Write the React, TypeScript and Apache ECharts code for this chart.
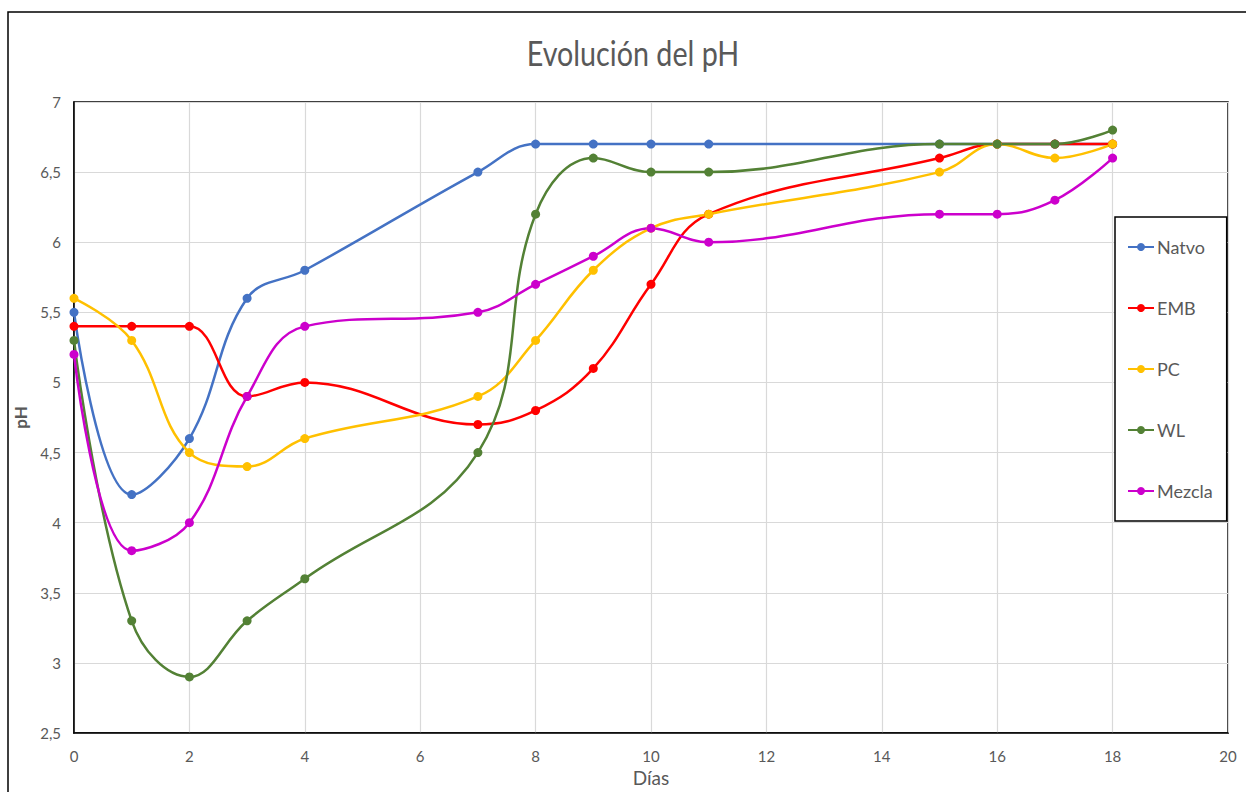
import React, { useEffect, useRef } from "react";
import * as echarts from "echarts";

const days = [0, 1, 2, 3, 4, 7, 8, 9, 10, 11, 15, 16, 17, 18];
const natvo = [5.5, 4.2, 4.6, 5.6, 5.8, 6.5, 6.7, 6.7, 6.7, 6.7, 6.7, 6.7, 6.7, 6.7];
const emb = [5.4, 5.4, 5.4, 4.9, 5.0, 4.7, 4.8, 5.1, 5.7, 6.2, 6.6, 6.7, 6.7, 6.7];
const pc = [5.6, 5.3, 4.5, 4.4, 4.6, 4.9, 5.3, 5.8, 6.1, 6.2, 6.5, 6.7, 6.6, 6.7];
const wl = [5.3, 3.3, 2.9, 3.3, 3.6, 4.5, 6.2, 6.6, 6.5, 6.5, 6.7, 6.7, 6.7, 6.8];
const mezcla = [5.2, 3.8, 4.0, 4.9, 5.4, 5.5, 5.7, 5.9, 6.1, 6.0, 6.2, 6.2, 6.3, 6.6];

const seriesNames = ["Natvo", "EMB", "PC", "WL", "Mezcla"];
const seriesValues = [natvo, emb, pc, wl, mezcla];
const seriesColors = ["#4472C4", "#FF0000", "#FFC000", "#538135", "#CC00CC"];
const titleText = "Evolución del pH";

const FONT = "Lato, 'Liberation Sans', sans-serif";

export default function App() {
  const ref = useRef<HTMLDivElement>(null);
  useEffect(() => {
    if (!ref.current) return;
    const chart = echarts.init(ref.current, undefined, { renderer: "svg" });
    chart.setOption({
      animation: false,
      backgroundColor: "#ffffff",
      textStyle: { fontFamily: FONT },
      graphic: [
        {
          type: "rect",
          shape: { x: 8, y: 12, width: 1260, height: 800 },
          style: { fill: "none", stroke: "#000", lineWidth: 1.5 },
          z: 100,
          silent: true,
        },
        {
          type: "text",
          x: 633,
          y: 52,
          scaleX: 0.82,
          scaleY: 1,
          style: {
            text: titleText,
            fontSize: 35,
            fontFamily: FONT,
            fill: "#595959",
            align: "center",
            verticalAlign: "middle",
            textAlign: "center",
            textVerticalAlign: "middle",
          },
          silent: true,
        },
      ],
      legend: {
        orient: "vertical",
        left: 1115,
        top: 217,
        width: 111,
        height: 305,
        padding: [21, 14, 21, 12],
        itemGap: 43,
        itemWidth: 26,
        itemHeight: 10,
        backgroundColor: "#ffffff",
        borderColor: "#000000",
        borderWidth: 1.5,
        textStyle: { fontSize: 18, color: "#595959", fontFamily: FONT, padding: [0, 0, 0, -2] },
        data: seriesNames,
        z: 10,
      },
      grid: {
        left: 74,
        right: 18,
        top: 102,
        bottom: 54,
        show: true,
        borderColor: "#000",
        borderWidth: 1.5,
        containLabel: false,
      },
      xAxis: {
        type: "value",
        min: 0,
        max: 20,
        interval: 2,
        name: "Días",
        nameLocation: "middle",
        nameGap: 35,
        nameTextStyle: { fontSize: 19, color: "#595959", fontFamily: FONT },
        axisLine: { show: true, lineStyle: { color: "#000", width: 1.5 } },
        axisTick: { show: false },
        axisLabel: { fontSize: 15, color: "#595959", margin: 15, fontFamily: FONT },
        splitLine: { show: true, lineStyle: { color: "#d9d9d9", width: 1.2 } },
      },
      yAxis: {
        type: "value",
        min: 2.5,
        max: 7,
        interval: 0.5,
        name: "pH",
        nameLocation: "middle",
        nameGap: 35,
        nameRotate: 90,
        nameTextStyle: { fontSize: 17, color: "#595959", fontWeight: "bold", fontFamily: FONT },
        axisLine: { show: true, lineStyle: { color: "#000", width: 1.5 } },
        axisTick: { show: false },
        axisLabel: {
          fontSize: 15,
          color: "#595959",
          margin: 13,
          fontFamily: FONT,
          formatter: (v: number) => String(v).replace(".", ","),
        },
        splitLine: { show: true, lineStyle: { color: "#d9d9d9", width: 1.2 } },
      },
      series: seriesNames.map((name, i) => ({
        name,
        type: "line",
        smooth: 0.4,
        symbol: "circle",
        symbolSize: 9,
        color: seriesColors[i],
        lineStyle: { width: 2.5, color: seriesColors[i] },
        itemStyle: { color: seriesColors[i] },
        data: days.map((d, j) => [d, seriesValues[i][j]]),
      })),
    });
    return () => chart.dispose();
  }, []);
  return <div ref={ref} style={{ width: 1246, height: 792, position: "absolute", left: 0, top: 0 }} />;
}
